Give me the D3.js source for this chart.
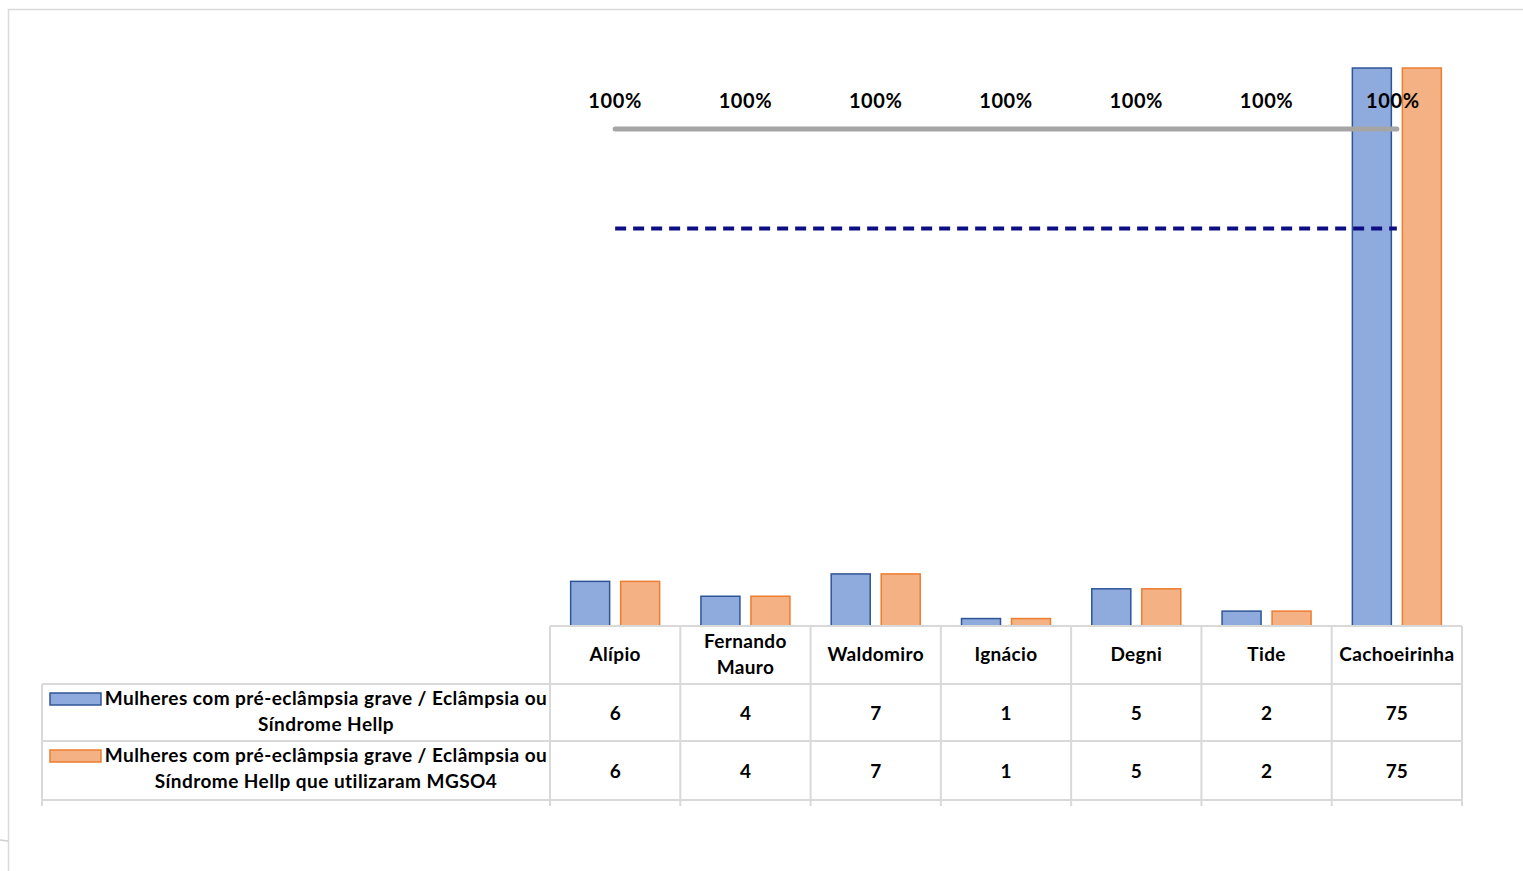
<!DOCTYPE html>
<html><head><meta charset="utf-8">
<script src="https://cdn.jsdelivr.net/npm/d3@7"></script>
<style>
html,body{margin:0;padding:0;background:#fff;}
svg{display:block;font-family:Lato, "Open Sans", sans-serif;}
</style></head>
<body>
<svg id="chart" width="1523" height="871"></svg>
<script>
const categories = ["Alípio", "Fernando Mauro", "Waldomiro", "Ignácio", "Degni", "Tide", "Cachoeirinha"];
const seriesNames = [
  ["Mulheres com pré-eclâmpsia grave / Eclâmpsia ou", "Síndrome Hellp"],
  ["Mulheres com pré-eclâmpsia grave / Eclâmpsia ou", "Síndrome Hellp que utilizaram MGSO4"]
];
const totalWomen = [6, 4, 7, 1, 5, 2, 75];
const usedMgso4 = [6, 4, 7, 1, 5, 2, 75];
const percentUsed = [1, 1, 1, 1, 1, 1, 1];
const goal = [0.8, 0.8, 0.8, 0.8, 0.8, 0.8, 0.8];
const percentLabels = ["100%", "100%", "100%", "100%", "100%", "100%", "100%"];

const fills = ["#8faadc", "#f4b183"];
const strokes = ["#2f5597", "#ed7d31"];
const series = [totalWomen, usedMgso4];

const svg = d3.select("#chart");

// outer frame
svg.append("path").attr("d", "M8.5,871 L8.5,9.5 L1523,9.5").attr("fill", "none").attr("stroke", "#d9d9d9").attr("stroke-width", 1.5);
svg.append("line").attr("x1", 0).attr("x2", 8).attr("y1", 840).attr("y2", 841).attr("stroke", "#d0d0d0").attr("stroke-width", 1.5);

const plotLeft = 550, plotRight = 1462, baseY = 626;
const x = d3.scaleBand().domain(categories).range([plotLeft, plotRight]).paddingInner(0).paddingOuter(0);
const y = d3.scaleLinear().domain([0, 75]).range([baseY, 68]);
const y2 = d3.scaleLinear().domain([0, 1]).range([baseY, 129]);
const xs = d3.scaleBand().domain([0, 1]).range([0, 90]).paddingInner(0.2);
const groupOffset = (x.bandwidth() - 90) / 2;

// bars
series.forEach((vals, si) => {
  svg.append("g").selectAll("rect").data(vals).join("rect")
    .attr("x", (d, i) => x(categories[i]) + groupOffset + xs(si) + 0.5)
    .attr("y", d => y(d))
    .attr("width", xs.bandwidth() - 1)
    .attr("height", d => baseY - y(d))
    .attr("fill", fills[si]).attr("stroke", strokes[si]).attr("stroke-width", 1.5);
});

// lines
const cx = c => x(c) + x.bandwidth() / 2;
const line = d3.line().x((d, i) => cx(categories[i])).y(d => y2(d));
svg.append("path").datum(goal).attr("d", line).attr("fill", "none")
  .attr("stroke", "#0e0e84").attr("stroke-width", 4).attr("stroke-dasharray", "11,7");
svg.append("path").datum(percentUsed).attr("d", line).attr("fill", "none")
  .attr("stroke", "#a5a5a5").attr("stroke-width", 5).attr("stroke-linecap", "round");

svg.append("g").selectAll("text").data(percentUsed).join("text")
  .attr("x", (d, i) => cx(categories[i]) - (i === 6 ? 4 : 0))
  .attr("y", d => y2(d) - 21)
  .attr("text-anchor", "middle").attr("font-weight", 700).attr("font-size", 20)
  .attr("letter-spacing", 0.6).attr("fill", "#000")
  .text((d, i) => percentLabels[i]);

// data table
const rows = [626, 684, 741, 800];
const tableLeft = 42;
const grid = svg.append("g").attr("stroke", "#d9d9d9").attr("stroke-width", 2);
grid.append("line").attr("x1", plotLeft).attr("x2", plotRight).attr("y1", rows[0]).attr("y2", rows[0]);
rows.slice(1).forEach(r => grid.append("line").attr("x1", tableLeft).attr("x2", plotRight).attr("y1", r).attr("y2", r));
categories.forEach(c => grid.append("line").attr("x1", x(c)).attr("x2", x(c)).attr("y1", rows[0]).attr("y2", 806));
grid.append("line").attr("x1", plotRight).attr("x2", plotRight).attr("y1", rows[0]).attr("y2", 806);
grid.append("line").attr("x1", tableLeft).attr("x2", tableLeft).attr("y1", rows[1]).attr("y2", 806);

// header labels
const hdr = svg.append("g").attr("font-weight", 700).attr("font-size", 19).attr("letter-spacing", 0.35)
  .attr("fill", "#000").attr("text-anchor", "middle");
categories.forEach(c => {
  const parts = c === "Fernando Mauro" ? ["Fernando", "Mauro"] : [c];
  const midY = (rows[0] + rows[1]) / 2;
  parts.forEach((p, k) => {
    hdr.append("text").attr("x", cx(c)).attr("y", midY + 6 + (k - (parts.length - 1) / 2) * 26).text(p);
  });
});

// values
series.forEach((vals, si) => {
  const midY = (rows[si + 1] + rows[si + 2]) / 2;
  svg.append("g").selectAll("text").data(vals).join("text")
    .attr("x", (d, i) => cx(categories[i])).attr("y", midY + 7)
    .attr("text-anchor", "middle").attr("font-weight", 700).attr("font-size", 19).text(d => d);
  // legend key + name
  svg.append("rect").attr("x", 50).attr("y", rows[si + 1] + 9).attr("width", 51).attr("height", 12)
    .attr("fill", fills[si]).attr("stroke", strokes[si]).attr("stroke-width", 1.5);
  seriesNames[si].forEach((t, k) => {
    svg.append("text").attr("x", 326).attr("y", rows[si + 1] + 21 + k * 26)
      .attr("text-anchor", "middle").attr("font-weight", 700).attr("font-size", 19)
      .attr("letter-spacing", 0.45).text(t);
  });
});
</script>
</body></html>
